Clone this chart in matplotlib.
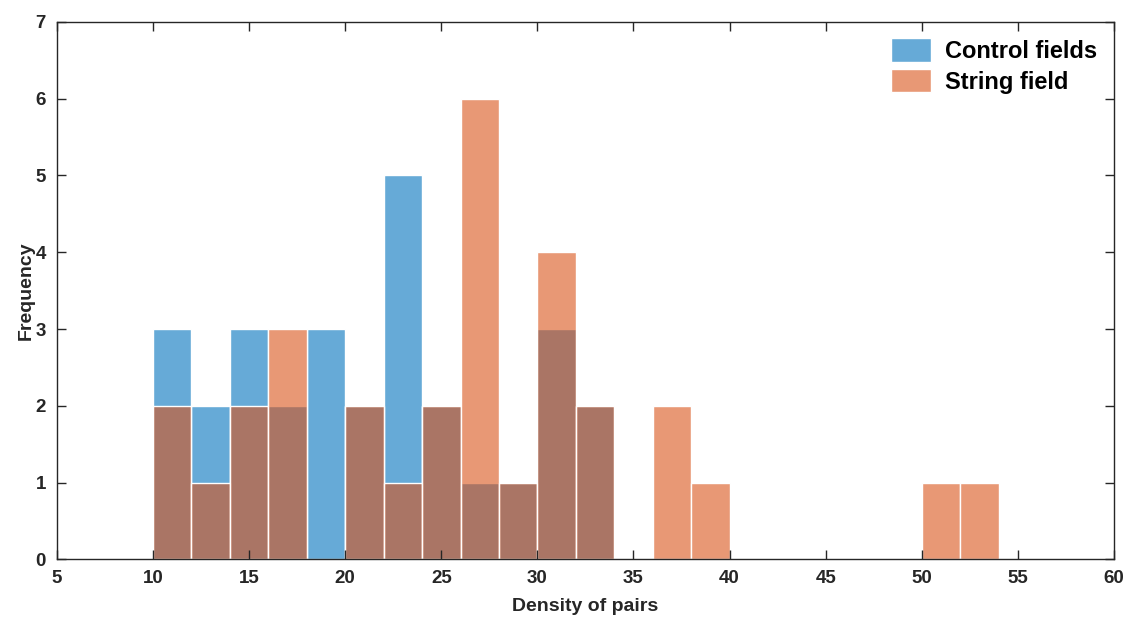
import matplotlib.pyplot as plt
import numpy as np

plt.rcParams["font.family"] = ["Liberation Sans", "DejaVu Sans"]
plt.rcParams["font.weight"] = "bold"

# bin edges (width 2) and counts
bin_edges = np.arange(10, 56, 2)
control_counts = [3, 2, 3, 2, 3, 2, 5, 2, 1, 1, 3, 2, 0, 0, 0, 0, 0, 0, 0, 0, 0, 0]
string_counts = [2, 1, 2, 3, 0, 2, 1, 2, 6, 1, 4, 2, 0, 2, 1, 0, 0, 0, 0, 0, 1, 1]

x_ticks = list(range(5, 61, 5))
y_ticks = list(range(0, 8))

BLUE = (0.0, 0.447, 0.741, 0.6)
ORANGE = (0.85, 0.325, 0.098, 0.6)

fig = plt.figure(figsize=(11.35, 6.25), dpi=100)
ax = fig.add_axes([0.0502, 0.105, 0.9312, 0.860])

lefts = bin_edges[:-1]
widths = np.diff(bin_edges)


def draw_hist(counts, color, label):
    xs = [l for l, c in zip(lefts, counts) if c > 0]
    hs = [c for c in counts if c > 0]
    ws = [w for w, c in zip(widths, counts) if c > 0]
    ax.bar(xs, hs, width=ws, align="edge", facecolor=color,
           edgecolor="white", linewidth=1.0, label=label)


draw_hist(control_counts, BLUE, "Control fields")
draw_hist(string_counts, ORANGE, "String field")

ax.set_xlim(5, 60)
ax.set_ylim(0, 7)
ax.set_xticks(x_ticks)
ax.set_yticks(y_ticks)
ax.tick_params(direction="in", top=True, right=True, length=6.5, width=1.0,
               labelsize=13.5, colors="#262626")
ax.tick_params(axis="x", pad=8)
ax.tick_params(axis="y", pad=8)
for lab in ax.get_xticklabels() + ax.get_yticklabels():
    lab.set_fontweight("bold")
for sp in ax.spines.values():
    sp.set_color("#262626")
    sp.set_linewidth(1.0)

ax.set_xlabel("Density of pairs", fontsize=14, fontweight="bold", color="#262626", labelpad=7.5)
ax.set_ylabel("Frequency", fontsize=14, fontweight="bold", color="#262626", labelpad=0.5)

leg = ax.legend(loc="upper right", frameon=False, fontsize=17, handlelength=1.7,
                handleheight=1.15, borderaxespad=0.3, handletextpad=0.6, labelspacing=0.25)
for t in leg.get_texts():
    t.set_fontweight("bold")

fig.savefig("out.png", dpi=100)
